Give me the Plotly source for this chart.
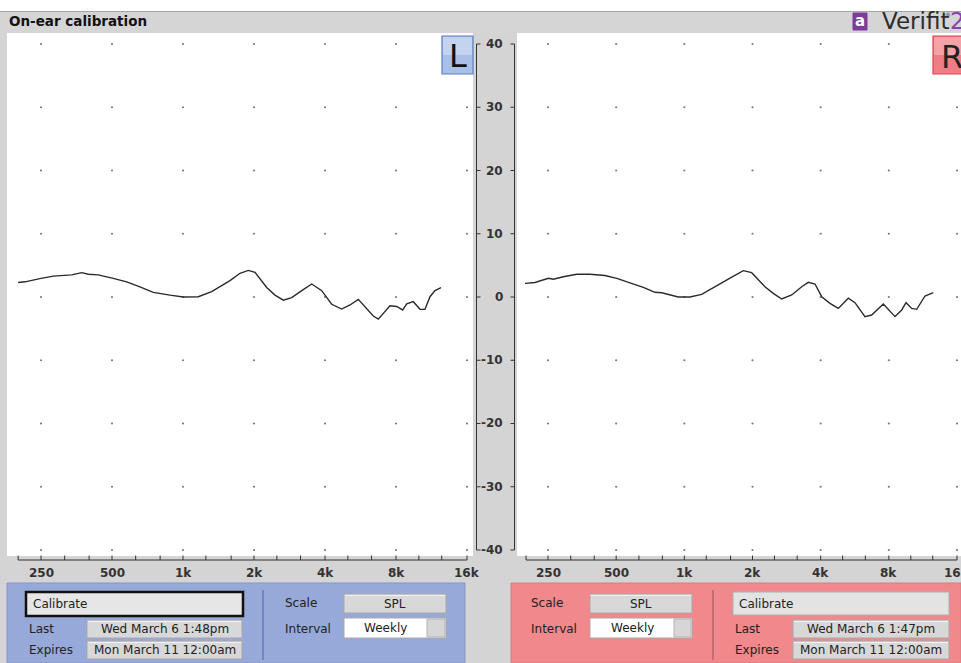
import math
import plotly.graph_objects as go

W, H = 961, 663

# ---------------- data ----------------
TITLE = "On-ear calibration"
FREQ_MAJOR = [250, 500, 1000, 2000, 4000, 8000, 16000]
FREQ_LABELS = ["250", "500", "1k", "2k", "4k", "8k", "16k"]
FREQ_MINOR = [200, 315, 400, 630, 800, 1250, 1600, 2500, 3150, 5000, 6300, 10000, 12500]
DB_TICKS = [40, 30, 20, 10, 0, -10, -20, -30, -40]

LEFT_FREQ = [200, 214, 250, 282, 337, 372, 397, 437, 506, 577, 657, 748, 881, 1003, 1161,
             1323, 1582, 1744, 1892, 2020, 2264, 2455, 2663, 2890, 3187, 3514, 3874, 4270,
             4708, 5106, 5536, 5911, 6408, 6733, 7542, 8055, 8539, 8882, 9473, 10113, 10615,
             11150, 11705, 12415]
LEFT_DB = [2.3, 2.4, 2.95, 3.3, 3.5, 3.85, 3.6, 3.5, 2.95, 2.4, 1.6, 0.74, 0.3, 0.0, 0.05,
           0.85, 2.6, 3.75, 4.2, 3.9, 1.5, 0.3, -0.5, -0.1, 1.0, 2.05, 1.0, -1.15,
           -1.9, -1.26, -0.37, -1.5, -3.0, -3.5, -1.4, -1.5, -2.05, -1.1, -0.74, -1.95, -1.95,
           0.05, 1.0, 1.47]

RIGHT_FREQ = [198, 219, 251, 264, 292, 335, 383, 446, 503, 576, 659, 742, 795, 940, 1059,
              1193, 1343, 1591, 1821, 1983, 2270, 2471, 2691, 2980, 3299, 3527, 3776, 4041,
              4398, 4786, 5297, 5669, 6277, 6718, 7563, 8517, 9118, 9527, 10092, 10622,
              11555, 12570]
RIGHT_DB = [2.15, 2.3, 2.95, 2.8, 3.2, 3.6, 3.6, 3.4, 2.95, 2.26, 1.53, 0.74, 0.68, 0.0, 0.0,
            0.42, 1.53, 3.0, 4.16, 3.85, 1.63, 0.58, -0.32, 0.32, 1.63, 2.32, 2.05, 0.05,
            -1.0, -1.8, -0.2, -0.9, -3.1, -2.85, -1.1, -3.1, -2.05, -0.9, -1.8, -1.95,
            0.16, 0.68]

LEFT_PANEL = {"last": "Wed March 6 1:48pm", "expires": "Mon March 11 12:00am",
              "scale": "SPL", "interval": "Weekly"}
RIGHT_PANEL = {"last": "Wed March 6 1:47pm", "expires": "Mon March 11 12:00am",
               "scale": "SPL", "interval": "Weekly"}

# ---------------- helpers ----------------
FONT = "DejaVu Sans"
TXT = "#222222"
AXC = "#333333"


def PX(x):
    return x / W


def PY(y):
    return 1 - y / H


shapes = []
annotations = []


def rect(x0, y0, x1, y1, fill, line="rgba(0,0,0,0)", lw=1):
    shapes.append(dict(type="rect", xref="paper", yref="paper",
                       x0=PX(x0), x1=PX(x1), y0=PY(y1), y1=PY(y0),
                       fillcolor=fill, line=dict(color=line, width=lw), layer="above"))


def hline(x0, x1, y, color, lw=1):
    shapes.append(dict(type="line", xref="paper", yref="paper",
                       x0=PX(x0), x1=PX(x1), y0=PY(y), y1=PY(y),
                       line=dict(color=color, width=lw), layer="above"))


def vline(x, y0, y1, color, lw=1):
    shapes.append(dict(type="line", xref="paper", yref="paper",
                       x0=PX(x), x1=PX(x), y0=PY(y0), y1=PY(y1),
                       line=dict(color=color, width=lw), layer="above"))


def text(x, y, s, size=12, color=TXT, anchor="left", bold=False, family=FONT):
    annotations.append(dict(x=PX(x), y=PY(y), xref="paper", yref="paper", text=s,
                            showarrow=False, xanchor=anchor, yanchor="middle",
                            font=dict(size=size, color=color, family=family,
                                      weight="bold" if bold else "normal")))


fig = go.Figure()

# grid dots
for xa, ya in (("x", "y"), ("x2", "y2")):
    gx = [f for f in FREQ_MAJOR for _ in DB_TICKS]
    gy = [d for _ in FREQ_MAJOR for d in DB_TICKS]
    fig.add_trace(go.Scatter(x=gx, y=gy, mode="markers", xaxis=xa, yaxis=ya,
                             marker=dict(size=2.2, color="#7a7a7a"),
                             hoverinfo="skip", showlegend=False))

fig.add_trace(go.Scatter(x=LEFT_FREQ, y=LEFT_DB, mode="lines", xaxis="x", yaxis="y",
                         line=dict(color="#2b2b2b", width=1.4), showlegend=False))
fig.add_trace(go.Scatter(x=RIGHT_FREQ, y=RIGHT_DB, mode="lines", xaxis="x2", yaxis="y2",
                         line=dict(color="#2b2b2b", width=1.4), showlegend=False))

# ---------------- chrome ----------------
GREY = "#d4d4d4"
# top white strip and title bar
rect(0, 0, W, 11, "white")
rect(0, 11, W, 33, "#d5d5d5")
hline(0, W, 11.5, "#a4a4a4", 1)
text(7, 21.5, TITLE, size=13.5, bold=True, color="#111111")

# Verifit logo
shapes.append(dict(type="rect", xref="paper", yref="paper",
                   x0=PX(853), x1=PX(867), y0=PY(30), y1=PY(13),
                   fillcolor="#7d3c98", line=dict(color="#7d3c98", width=1), layer="above"))
text(860, 21.5, "a", size=15, color="white", anchor="center", bold=True)
text(880, 21, "Verifit", size=23, color="#2c2c2c")
text(943, 14, "®", size=6, color="#444444")
text(948, 21, "2", size=23, color="#8a3fae")

# frequency scale under each plot: base line 200 Hz .. 16 kHz, ticks, labels
AX_Y = 560
for xa in ("x", "x2"):
    shapes.append(dict(type="line", xref=xa, yref="paper", x0=FREQ_MINOR[0], x1=FREQ_MAJOR[-1],
                       y0=PY(AX_Y), y1=PY(AX_Y), line=dict(color=AXC, width=1),
                       layer="above"))
    for f in FREQ_MAJOR + FREQ_MINOR:
        shapes.append(dict(type="line", xref=xa, yref="paper", x0=f, x1=f,
                           y0=PY(AX_Y), y1=PY(AX_Y - 4.5), line=dict(color=AXC, width=1),
                           layer="above"))
    for f, lab in zip(FREQ_MAJOR, FREQ_LABELS):
        # annotations on a log axis take log10 positions
        annotations.append(dict(x=math.log10(f), y=PY(572.5), xref=xa, yref="paper",
                                text=lab, showarrow=False, xanchor="center",
                                yanchor="middle",
                                font=dict(size=12, color=AXC, family=FONT, weight="bold")))

# middle dB scale brackets
for d in DB_TICKS:
    shapes.append(dict(type="line", xref="paper", yref="y", x0=PX(476.5), x1=PX(480.5),
                       y0=d, y1=d, line=dict(color=AXC, width=1), layer="above"))
    shapes.append(dict(type="line", xref="paper", yref="y", x0=PX(510.5), x1=PX(514.5),
                       y0=d, y1=d, line=dict(color=AXC, width=1), layer="above"))
    annotations.append(dict(x=PX(505), y=d, xref="paper", yref="y", text=str(d),
                            showarrow=False, xanchor="right", yanchor="middle",
                            font=dict(size=12, color=AXC, family=FONT, weight="bold")))
for xl in (476.5, 514.5):
    shapes.append(dict(type="line", xref="paper", yref="y", x0=PX(xl), x1=PX(xl),
                       y0=DB_TICKS[-1], y1=DB_TICKS[0],
                       line=dict(color=AXC, width=1), layer="above"))

# L / R buttons
rect(442, 36, 473, 74, "#a9bfe8", "#5b7fc4", 1.2)
rect(443, 37, 472, 55, "#c3d3f0")
text(458, 56, "L", size=32, color="#111111", anchor="center")
rect(933, 36, 975, 74, "#ee7d86", "#e2404e", 1.2)
rect(934, 37, 975, 55, "#f4a2a8")
text(939, 57, "R", size=32, color="#222222", anchor="left")

# bottom panels
rect(7, 583, 465, 663, "#97a9d9", "#8597c6", 1)
rect(511, 583, 961, 663, "#f0888c", "#e07a80", 1)


def field(x0, y0, x1, y1, s):
    rect(x0, y0, x1, y1, "#d8d8d8", "#a9a9a9", 1)
    hline(x0 + 1, x1 - 1, y0 + 1.5, "#f2f2f2", 1)
    text((x0 + x1) / 2, (y0 + y1) / 2, s, size=12, anchor="center")


def dropdown(x0, y0, x1, y1, knob_x, s):
    rect(x0, y0, x1, y1, "white", "#a9a9a9", 1)
    rect(knob_x, y0 + 1, x1 - 1, y1 - 1, "#d6d6d6", "#b4b4b4", 1)
    text((x0 + knob_x) / 2, (y0 + y1) / 2, s, size=12, anchor="center")


# left panel
rect(26, 592, 243, 616, "#e6e6e6", "#111111", 2.5)
text(31, 604, "Calibrate", size=12)
text(27, 629, "Last", size=12)
field(87, 620, 242, 638, LEFT_PANEL["last"])
text(27, 650, "Expires", size=12)
field(87, 641, 242, 659, LEFT_PANEL["expires"])
vline(263, 590, 660, "#6a7bb0", 1.5)
text(283, 603, "Scale", size=12)
field(344, 594, 446, 613, LEFT_PANEL["scale"])
text(283, 629, "Interval", size=12)
dropdown(344, 618, 446, 638, 427, LEFT_PANEL["interval"])

# right panel
text(529, 603, "Scale", size=12)
field(590, 594, 692, 613, RIGHT_PANEL["scale"])
text(529, 629, "Interval", size=12)
dropdown(590, 618, 692, 638, 674, RIGHT_PANEL["interval"])
vline(713, 590, 660, "#b9656c", 1.5)
rect(733, 592, 949, 615, "#e3e3e3", "#b0b0b0", 1)
text(737, 604, "Calibrate", size=12)
text(733, 629, "Last", size=12)
field(793, 620, 949, 638, RIGHT_PANEL["last"])
text(733, 650, "Expires", size=12)
field(793, 641, 949, 659, RIGHT_PANEL["expires"])


# ---------------- axes ----------------
def xaxis(dom, rng, anchor):
    return dict(type="log", domain=[PX(dom[0]), PX(dom[1])], range=rng, anchor=anchor,
                visible=False, automargin=False, fixedrange=True)


def yaxis(anchor):
    return dict(domain=[PY(556), PY(33)], range=[-40.95, 41.74], visible=False,
                anchor=anchor, fixedrange=True, automargin=False)


fig.update_layout(
    width=W, height=H, margin=dict(l=0, r=0, t=0, b=0, pad=0, autoexpand=False),
    paper_bgcolor=GREY, plot_bgcolor="white", showlegend=False,
    font=dict(family=FONT, size=12, color=TXT),
    xaxis=xaxis((7, 473), [2.25379, 4.22953], "y"),
    xaxis2=xaxis((517, 961), [2.26104, 4.22174], "y2"),
    yaxis=yaxis("x"), yaxis2=yaxis("x2"),
    shapes=shapes, annotations=annotations,
)

fig.write_html("out.html", config={"displayModeBar": False},
               post_script="document.body.style.margin='0px';"
                           "document.body.style.overflow='hidden';")
